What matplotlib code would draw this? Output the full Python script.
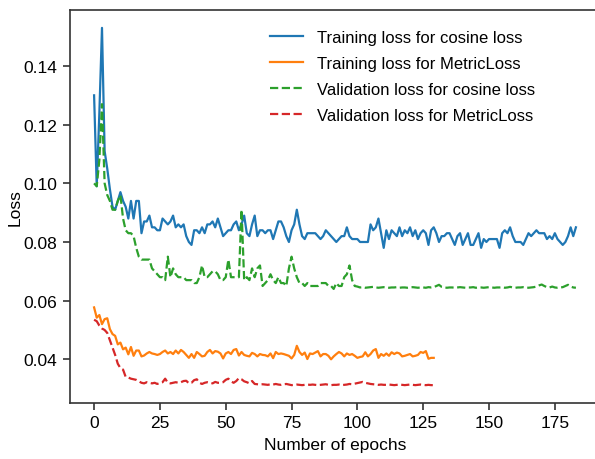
import numpy as np
import matplotlib
matplotlib.use('Agg')
import matplotlib.pyplot as plt

# Loss per epoch
train_cosine = [
    0.130, 0.099, 0.124, 0.153, 0.111, 0.105, 0.098, 0.092, 0.091, 0.094,
    0.097, 0.094, 0.092, 0.088, 0.094, 0.088, 0.094, 0.094, 0.083, 0.087,
    0.087, 0.089, 0.085, 0.085, 0.084, 0.084, 0.088, 0.087, 0.086, 0.087,
    0.089, 0.085, 0.086, 0.085, 0.086, 0.082, 0.080, 0.079, 0.084, 0.084,
    0.083, 0.085, 0.083, 0.086, 0.086, 0.087, 0.085, 0.088, 0.085, 0.082,
    0.083, 0.084, 0.084, 0.086, 0.087, 0.084, 0.086, 0.089, 0.083, 0.082,
    0.086, 0.089, 0.082, 0.084, 0.084, 0.083, 0.084, 0.084, 0.081, 0.084,
    0.087, 0.087, 0.085, 0.082, 0.080, 0.084, 0.086, 0.091, 0.086, 0.082,
    0.081, 0.083, 0.083, 0.083, 0.083, 0.082, 0.081, 0.082, 0.084, 0.083,
    0.082, 0.081, 0.080, 0.081, 0.082, 0.082, 0.085, 0.082, 0.081, 0.081,
    0.081, 0.080, 0.080, 0.080, 0.080, 0.086, 0.084, 0.085, 0.088, 0.083,
    0.078, 0.084, 0.081, 0.084, 0.083, 0.082, 0.085, 0.082, 0.084, 0.083,
    0.085, 0.082, 0.084, 0.081, 0.083, 0.084, 0.083, 0.079, 0.084, 0.085,
    0.083, 0.080, 0.082, 0.082, 0.083, 0.083, 0.081, 0.079, 0.082, 0.083,
    0.079, 0.081, 0.083, 0.079, 0.079, 0.081, 0.083, 0.078, 0.081, 0.080,
    0.081, 0.081, 0.081, 0.081, 0.078, 0.083, 0.084, 0.083, 0.085, 0.082,
    0.080, 0.080, 0.080, 0.079, 0.081, 0.083, 0.082, 0.083, 0.084, 0.083,
    0.083, 0.083, 0.081, 0.082, 0.081, 0.083, 0.081, 0.080, 0.079, 0.080,
    0.082, 0.085, 0.082, 0.085,
]

train_metric = [
    0.0577, 0.0542, 0.0551, 0.0520, 0.0537, 0.0540, 0.0503, 0.0486, 0.0480, 0.0451,
    0.0457, 0.0434, 0.0440, 0.0417, 0.0442, 0.0412, 0.0430, 0.0430, 0.0410, 0.0413,
    0.0420, 0.0425, 0.0420, 0.0418, 0.0415, 0.0418, 0.0425, 0.0430, 0.0420, 0.0425,
    0.0418, 0.0430, 0.0420, 0.0432, 0.0425, 0.0415, 0.0405, 0.0418, 0.0405, 0.0425,
    0.0418, 0.0410, 0.0412, 0.0425, 0.0432, 0.0420, 0.0428, 0.0426, 0.0420, 0.0403,
    0.0420, 0.0425, 0.0418, 0.0432, 0.0435, 0.0413, 0.0425, 0.0415, 0.0412, 0.0410,
    0.0422, 0.0418, 0.0410, 0.0418, 0.0415, 0.0414, 0.0410, 0.0420, 0.0404, 0.0425,
    0.0418, 0.0420, 0.0418, 0.0415, 0.0412, 0.0403, 0.0415, 0.0446, 0.0425, 0.0415,
    0.0423, 0.0401, 0.0420, 0.0418, 0.0423, 0.0428, 0.0410, 0.0418, 0.0418, 0.0412,
    0.0400, 0.0410, 0.0418, 0.0425, 0.0420, 0.0410, 0.0420, 0.0415, 0.0418, 0.0412,
    0.0405, 0.0408, 0.0410, 0.0424, 0.0410, 0.0418, 0.0430, 0.0435, 0.0405, 0.0418,
    0.0412, 0.0420, 0.0412, 0.0424, 0.0418, 0.0423, 0.0420, 0.0410, 0.0412, 0.0415,
    0.0418, 0.0410, 0.0412, 0.0415, 0.0425, 0.0422, 0.0428, 0.0402, 0.0405, 0.0405,
]

val_cosine = [
    0.100, 0.099, 0.108, 0.127, 0.100, 0.096, 0.094, 0.091, 0.091, 0.094,
    0.096, 0.088, 0.084, 0.083, 0.083, 0.082, 0.078, 0.075, 0.074, 0.074,
    0.074, 0.074, 0.071, 0.070, 0.069, 0.068, 0.068, 0.067, 0.075, 0.068,
    0.071, 0.069, 0.068, 0.068, 0.068, 0.067, 0.067, 0.067, 0.066, 0.066,
    0.068, 0.072, 0.068, 0.068, 0.069, 0.070, 0.070, 0.069, 0.067, 0.067,
    0.068, 0.074, 0.068, 0.068, 0.068, 0.068, 0.091, 0.067, 0.068, 0.067,
    0.071, 0.068, 0.071, 0.072, 0.065, 0.066, 0.067, 0.069, 0.067, 0.066,
    0.068, 0.066, 0.066, 0.065, 0.071, 0.075, 0.071, 0.068, 0.066, 0.066,
    0.065, 0.066, 0.065, 0.065, 0.065, 0.065, 0.066, 0.066, 0.066, 0.065,
    0.065, 0.064, 0.066, 0.065, 0.065, 0.068, 0.069, 0.072, 0.067, 0.065,
    0.0648, 0.0645, 0.0646, 0.0644, 0.0645, 0.0646, 0.0647, 0.0645, 0.0644, 0.0645,
    0.0646, 0.0645, 0.0644, 0.0645, 0.0645, 0.0646, 0.0644, 0.0645, 0.0645, 0.0644,
    0.0645, 0.0646, 0.0645, 0.0644, 0.0645, 0.0645, 0.0644, 0.0646, 0.0645, 0.0646,
    0.0650, 0.0654, 0.0647, 0.0645, 0.0644, 0.0645, 0.0645, 0.0644, 0.0645, 0.0646,
    0.0645, 0.0644, 0.0645, 0.0645, 0.0646, 0.0644, 0.0645, 0.0645, 0.0644, 0.0645,
    0.0646, 0.0645, 0.0644, 0.0645, 0.0645, 0.0646, 0.0644, 0.0645, 0.0647, 0.0645,
    0.0644, 0.0645, 0.0645, 0.0646, 0.0645, 0.0644, 0.0645, 0.0646, 0.0648, 0.0652,
    0.0655, 0.0650, 0.0646, 0.0645, 0.0648, 0.0645, 0.0644, 0.0645, 0.0646, 0.0650,
    0.0654, 0.0648, 0.0645, 0.0644,
]

val_metric = [
    0.0535, 0.0530, 0.0515, 0.0505, 0.0500, 0.0490, 0.0465, 0.0440, 0.0415, 0.0385,
    0.0370, 0.0365, 0.0340, 0.0338, 0.0334, 0.0332, 0.0330, 0.0325, 0.0320, 0.0318,
    0.0322, 0.0320, 0.0318, 0.0320, 0.0316, 0.0320, 0.0322, 0.0334, 0.0320, 0.0318,
    0.0320, 0.0322, 0.0320, 0.0322, 0.0326, 0.0327, 0.0318, 0.0320, 0.0329, 0.0332,
    0.0320, 0.0316, 0.0320, 0.0322, 0.0320, 0.0318, 0.0323, 0.0320, 0.0320, 0.0322,
    0.0330, 0.0334, 0.0325, 0.0320, 0.0326, 0.0336, 0.0332, 0.0325, 0.0322, 0.0318,
    0.0326, 0.0316, 0.0315, 0.0314, 0.0315, 0.0314, 0.0313, 0.0315, 0.0314, 0.0316,
    0.0314, 0.0313, 0.0315, 0.0316, 0.0314, 0.0312, 0.0313, 0.0314, 0.0313, 0.0312,
    0.0313, 0.0314, 0.0313, 0.0314, 0.0313, 0.0312, 0.0313, 0.0314, 0.0315, 0.0313,
    0.0312, 0.0313, 0.0313, 0.0314, 0.0312, 0.0313, 0.0314, 0.0316, 0.0315, 0.0317,
    0.0319, 0.0321, 0.0323, 0.0320, 0.0318, 0.0316, 0.0315, 0.0314, 0.0313, 0.0314,
    0.0313, 0.0313, 0.0314, 0.0313, 0.0312, 0.0313, 0.0314, 0.0313, 0.0312, 0.0313,
    0.0314, 0.0313, 0.0312, 0.0313, 0.0314, 0.0313, 0.0312, 0.0313, 0.0312, 0.0312,
]

labels = ['Training loss for cosine loss', 'Training loss for MetricLoss',
          'Validation loss for cosine loss', 'Validation loss for MetricLoss']

plt.rcParams['font.family'] = ['Liberation Sans', 'DejaVu Sans']
plt.rcParams['font.size'] = 12.5

fig = plt.figure(figsize=(5.95, 4.6), dpi=100)
# el borde derecho queda fuera de la imagen, como en el original recortado
ax = fig.add_axes([70 / 595, 1 - 404 / 460, 530 / 595, 393 / 460])

ax.plot(np.arange(len(train_cosine)), train_cosine, color='#1f77b4', lw=1.6, label=labels[0])
ax.plot(np.arange(len(train_metric)), train_metric, color='#ff7f0e', lw=1.6, label=labels[1])
ax.plot(np.arange(len(val_cosine)), val_cosine, color='#2ca02c', lw=1.6, ls='--', label=labels[2])
ax.plot(np.arange(len(val_metric)), val_metric, color='#d62728', lw=1.6, ls='--', label=labels[3])
ax.set_xlim(-9.15, 192.15)

# Formato de ejes
ax.set_xlabel('Number of epochs', labelpad=5)
ax.set_ylabel('Loss', labelpad=1)
ax.set_xticks([0, 25, 50, 75, 100, 125, 150, 175])
ax.tick_params(direction='out', length=5, width=1.2, color='#333333', pad=4)
for sp in ax.spines.values():
    sp.set_color('#333333')
    sp.set_linewidth(1.2)

ax.legend(loc='upper left', bbox_to_anchor=(0.365, 0.967), borderaxespad=0,
          frameon=False, fontsize=12, labelspacing=0.66)

fig.savefig('out.png', dpi=100)
plt.close()
